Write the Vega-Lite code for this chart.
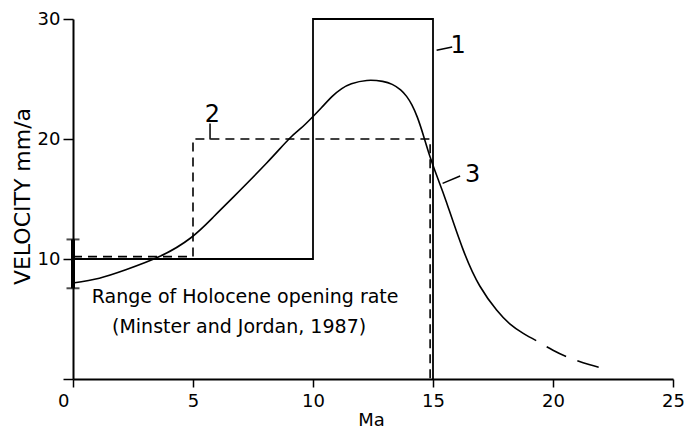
{
  "$schema": "https://vega.github.io/schema/vega-lite/v6.json",
  "width": 600,
  "height": 360,
  "autosize": {"type": "none"},
  "padding": {"left": 73, "top": 19, "right": 11, "bottom": 51},
  "background": "white",
  "config": {
    "view": {"stroke": null},
    "font": "DejaVu Sans",
    "axis": {
      "grid": false,
      "domainColor": "black",
      "domainWidth": 2,
      "tickColor": "black",
      "tickWidth": 1.5,
      "labelColor": "black",
      "titleColor": "black",
      "labelFont": "DejaVu Sans",
      "titleFont": "DejaVu Sans",
      "titleFontWeight": "normal"
    }
  },
  "datasets": {
    "steps": [
      {"curve": "1", "ord": 1, "ma": 0, "v": 10},
      {"curve": "1", "ord": 2, "ma": 10, "v": 10},
      {"curve": "1", "ord": 3, "ma": 10, "v": 30},
      {"curve": "1", "ord": 4, "ma": 15, "v": 30},
      {"curve": "1", "ord": 5, "ma": 15, "v": 0},
      {"curve": "2", "ord": 1, "ma": 0, "v": 10.2},
      {"curve": "2", "ord": 2, "ma": 5, "v": 10.2},
      {"curve": "2", "ord": 3, "ma": 5, "v": 20},
      {"curve": "2", "ord": 4, "ma": 14.88, "v": 20},
      {"curve": "2", "ord": 5, "ma": 14.88, "v": 0}
    ],
    "model": [
      {"part": "solid", "ma": 0, "v": 8.0},
      {"part": "solid", "ma": 1.1, "v": 8.4},
      {"part": "solid", "ma": 2.2, "v": 9.1},
      {"part": "solid", "ma": 3.6, "v": 10.2},
      {"part": "solid", "ma": 4.9, "v": 11.75},
      {"part": "solid", "ma": 5.85, "v": 13.5},
      {"part": "solid", "ma": 6.7, "v": 15.2},
      {"part": "solid", "ma": 8.07, "v": 18.0},
      {"part": "solid", "ma": 9.0, "v": 20.0},
      {"part": "solid", "ma": 9.5, "v": 20.9},
      {"part": "solid", "ma": 9.94, "v": 21.75},
      {"part": "solid", "ma": 10.35, "v": 22.6},
      {"part": "solid", "ma": 10.8, "v": 23.55},
      {"part": "solid", "ma": 11.2, "v": 24.2},
      {"part": "solid", "ma": 11.6, "v": 24.6},
      {"part": "solid", "ma": 12.24, "v": 24.88},
      {"part": "solid", "ma": 12.9, "v": 24.8},
      {"part": "solid", "ma": 13.3, "v": 24.55},
      {"part": "solid", "ma": 13.65, "v": 24.1},
      {"part": "solid", "ma": 13.9, "v": 23.55},
      {"part": "solid", "ma": 14.12, "v": 22.85},
      {"part": "solid", "ma": 14.35, "v": 21.8},
      {"part": "solid", "ma": 14.6, "v": 20.3},
      {"part": "solid", "ma": 14.88, "v": 18.5},
      {"part": "solid", "ma": 15.22, "v": 16.6},
      {"part": "solid", "ma": 15.55, "v": 14.8},
      {"part": "solid", "ma": 16.25, "v": 10.8},
      {"part": "solid", "ma": 16.95, "v": 7.75},
      {"part": "solid", "ma": 17.65, "v": 5.75},
      {"part": "solid", "ma": 18.2, "v": 4.6},
      {"part": "solid", "ma": 18.76, "v": 3.8},
      {"part": "solid", "ma": 19.3, "v": 3.2},
      {"part": "dashed", "ma": 19.3, "v": 3.2},
      {"part": "dashed", "ma": 20.0, "v": 2.4},
      {"part": "dashed", "ma": 20.7, "v": 1.75},
      {"part": "dashed", "ma": 21.5, "v": 1.2},
      {"part": "dashed", "ma": 22.25, "v": 0.8}
    ],
    "holocene": [
      {"ma": 0, "lo": 7.56, "hi": 11.63}
    ],
    "notes": [
      {"ma": 7.17, "v": 6.33, "text": "Range of Holocene opening rate"},
      {"ma": 6.92, "v": 3.83, "text": "(Minster and Jordan, 1987)"}
    ],
    "labels": [
      {"ma": 16.05, "v": 27.17, "text": "1"},
      {"ma": 5.81, "v": 21.44, "text": "2"},
      {"ma": 16.65, "v": 16.42, "text": "3"}
    ],
    "leaders": [
      {"ma": 15.15, "v": 27.4, "ma2": 15.8, "v2": 27.67},
      {"ma": 5.71, "v": 21.3, "ma2": 5.71, "v2": 19.95},
      {"ma": 15.4, "v": 16.3, "ma2": 16.13, "v2": 16.92}
    ]
  },
  "encoding": {
    "x": {
      "field": "ma",
      "type": "quantitative",
      "scale": {"domain": [0, 25], "nice": false, "zero": true},
      "axis": {
        "title": "Ma",
        "values": [0, 5, 10, 15, 20, 25],
        "tickSize": 8,
        "labelPadding": 5,
        "labelFontSize": 18,
        "labelAlign": {"condition": {"test": "datum.value === 0", "value": "right"}, "value": "center"},
        "labelOffset": {"condition": {"test": "datum.value === 0", "value": -4}, "value": 0},
        "titleFontSize": 18,
        "titleX": 298,
        "titleY": 46,
        "titleBaseline": "alphabetic",
        "titleAlign": "center",
        "titleAnchor": "middle"
      }
    },
    "y": {
      "field": "v",
      "type": "quantitative",
      "scale": {"domain": [0, 30], "nice": false, "zero": true},
      "axis": {
        "title": "VELOCITY mm/a",
        "values": [0, 10, 20, 30],
        "labelExpr": "datum.value === 0 ? '' : datum.label",
        "tickSize": 10,
        "labelPadding": 3,
        "labelFontSize": 18,
        "titleFontSize": 22,
        "titleX": -44,
        "titleY": 177,
        "titleAngle": 270,
        "titleBaseline": "alphabetic",
        "titleAlign": "center",
        "titleAnchor": "middle"
      }
    }
  },
  "layer": [
    {
      "data": {"name": "steps"},
      "transform": [{"filter": "datum.curve === '1'"}],
      "mark": {"type": "line", "color": "black", "strokeWidth": 1.8, "interpolate": "linear"},
      "encoding": {"order": {"field": "ord", "type": "quantitative"}}
    },
    {
      "data": {"name": "steps"},
      "transform": [{"filter": "datum.curve === '2'"}],
      "mark": {"type": "line", "color": "black", "strokeWidth": 1.6, "strokeDash": [9, 6], "interpolate": "linear"},
      "encoding": {"order": {"field": "ord", "type": "quantitative"}}
    },
    {
      "data": {"name": "model"},
      "transform": [{"filter": "datum.part === 'solid'"}],
      "mark": {"type": "line", "color": "black", "strokeWidth": 1.6, "interpolate": "natural"},
      "encoding": {"order": {"field": "ma", "type": "quantitative"}}
    },
    {
      "data": {"name": "model"},
      "transform": [{"filter": "datum.part === 'dashed'"}],
      "mark": {"type": "line", "color": "black", "strokeWidth": 1.6, "interpolate": "natural", "strokeDash": [22, 12], "strokeDashOffset": 22},
      "encoding": {"order": {"field": "ma", "type": "quantitative"}}
    },
    {
      "data": {"name": "holocene"},
      "mark": {"type": "rule", "color": "black", "strokeWidth": 4},
      "encoding": {"y": {"field": "lo", "type": "quantitative"}, "y2": {"field": "hi"}}
    },
    {
      "data": {"name": "holocene"},
      "mark": {"type": "tick", "color": "black", "orient": "horizontal", "size": 13, "thickness": 2},
      "encoding": {"y": {"field": "lo", "type": "quantitative"}}
    },
    {
      "data": {"name": "holocene"},
      "mark": {"type": "tick", "color": "black", "orient": "horizontal", "size": 13, "thickness": 2},
      "encoding": {"y": {"field": "hi", "type": "quantitative"}}
    },
    {
      "data": {"name": "leaders"},
      "mark": {"type": "rule", "color": "black", "strokeWidth": 1.5},
      "encoding": {"x2": {"field": "ma2"}, "y2": {"field": "v2"}}
    },
    {
      "data": {"name": "notes"},
      "mark": {"type": "text", "color": "black", "font": "DejaVu Sans", "fontSize": 19, "align": "center", "baseline": "alphabetic"},
      "encoding": {"text": {"field": "text"}}
    },
    {
      "data": {"name": "labels"},
      "mark": {"type": "text", "color": "black", "font": "DejaVu Sans", "fontSize": 24, "align": "center", "baseline": "alphabetic"},
      "encoding": {"text": {"field": "text"}}
    }
  ]
}
